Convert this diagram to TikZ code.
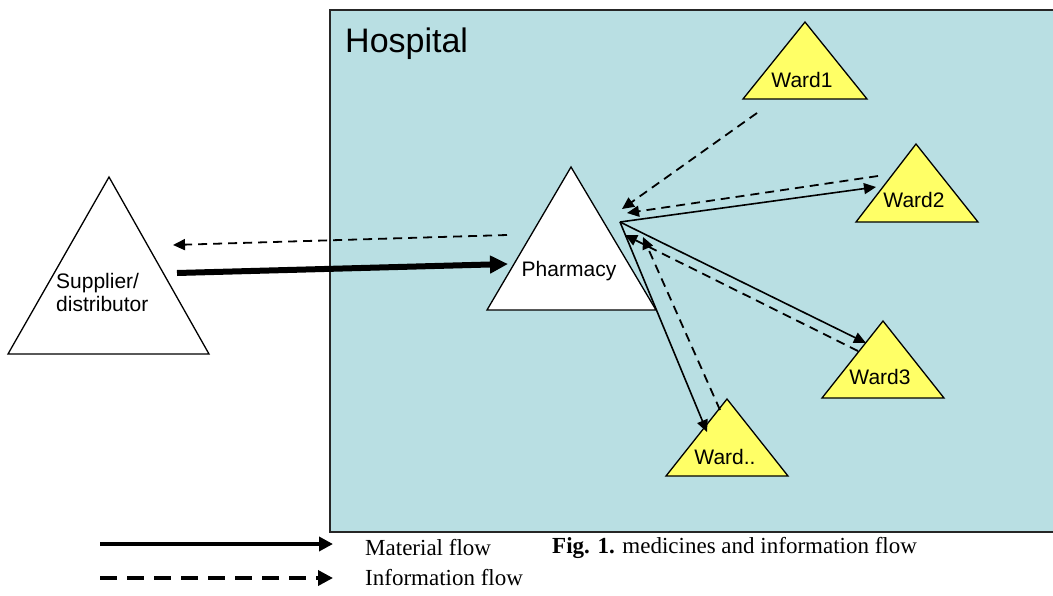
\documentclass[tikz,border=0pt]{standalone}
\usepackage{fontspec}
\setmainfont{Liberation Serif}
\setsansfont{Liberation Sans}
\usepackage{xcolor}
\usepackage{tikz}
\usetikzlibrary{arrows.meta, calc}
\definecolor{hospblue}{RGB}{185,223,227}
\definecolor{wardyellow}{RGB}{255,255,102}

\begin{document}
\begin{tikzpicture}[x=1pt, y=-1pt,
  tri/.style={draw=black, line width=1.3pt, line join=miter},
  lbl/.style={font=\sffamily\fontsize{21}{23}\selectfont, inner sep=0pt, align=center},
  matflow/.style={line width=1.6pt, -{Triangle[length=12pt, width=11pt]}},
  infflow/.style={line width=1.8pt, dash pattern=on 9pt off 6pt, -{Triangle[length=12pt, width=11pt]}},
  legtext/.style={font=\fontsize{23}{26}\selectfont, inner sep=0pt, anchor=west}]

\useasboundingbox (0,0) rectangle (1053,595);

\draw[fill=hospblue, draw=black!85, line width=1.8pt] (330,10) rectangle (1062,532);
\node (hosp)[anchor=base west, font=\sffamily\fontsize{34}{40}\selectfont, inner sep=0pt] at (345,52) {Hospital};

% triangles
\draw[tri, fill=white] (109,177) -- (209,354) -- (8,354) -- cycle;
\draw[tri, fill=white] (571,167) -- (656,310) -- (487,310) -- cycle;
\draw[tri, fill=wardyellow] (805,22) -- (867,99) -- (743,99) -- cycle;
\draw[tri, fill=wardyellow] (916,144) -- (978,222) -- (856,222) -- cycle;
\draw[tri, fill=wardyellow] (883,321) -- (944,398) -- (822,398) -- cycle;
\draw[tri, fill=wardyellow] (727,399) -- (788,476) -- (666,476) -- cycle;

\node (sup)[lbl, align=left, anchor=west] at (56,292) {Supplier/\\distributor};
\node (pharm)[lbl] at (569,271) {Pharmacy};
\node (ward1)[lbl] at (802,80) {Ward1};
\node (ward2)[lbl] at (914,200) {Ward2};
\node (ward3)[lbl] at (880,377) {Ward3};
\node (wardn)[lbl] at (725,457) {Ward..};

\coordinate (hub) at (620,222);
\coordinate (supout) at (177,273);
\coordinate (phin) at (508,264);
\coordinate (phout) at (507,235);
\coordinate (supin) at (173,245);
\coordinate (w2in) at (876,187);
\coordinate (w3in) at (866,343);
\coordinate (wnin) at (707,432);
\coordinate (w1out) at (757,113);
\coordinate (w2out) at (878,176);
\coordinate (w3out) at (858,351);
\coordinate (wnout) at (720,410);

\draw[line width=6pt, -{Triangle[length=18pt, width=17pt]}] (supout) -- (phin);
\draw[infflow] (phout) -- (supin);

\draw[matflow] (hub) -- (w2in);
\draw[matflow] (hub) -- (w3in);
\draw[matflow] (hub) -- (wnin);

\draw[infflow] (w1out) -- (622,209);
\draw[infflow] (w2out) -- (627,213);
\draw[infflow] (w3out) -- (625,235);
\draw[infflow] (wnout) -- (643,237);

% legend
\coordinate (lg1) at (100,544);
\coordinate (lg2) at (100,578);
\draw[line width=3.5pt, -{Triangle[length=14pt, width=14pt]}] (lg1) -- ++(233,0) coordinate (lg1e);
\draw[line width=3.5pt, dash pattern=on 17pt off 10pt, -{Triangle[length=15pt, width=15pt]}] (lg2) -- ++(233,0) coordinate (lg2e);
\node (matl)[legtext] at (365,548) {Material flow};
\node (infl)[legtext] at (365,578) {Information flow};
\node (cap)[legtext] at (552,548) {\textbf{Fig. 1.} medicines and information flow};
\end{tikzpicture}
\end{document}
